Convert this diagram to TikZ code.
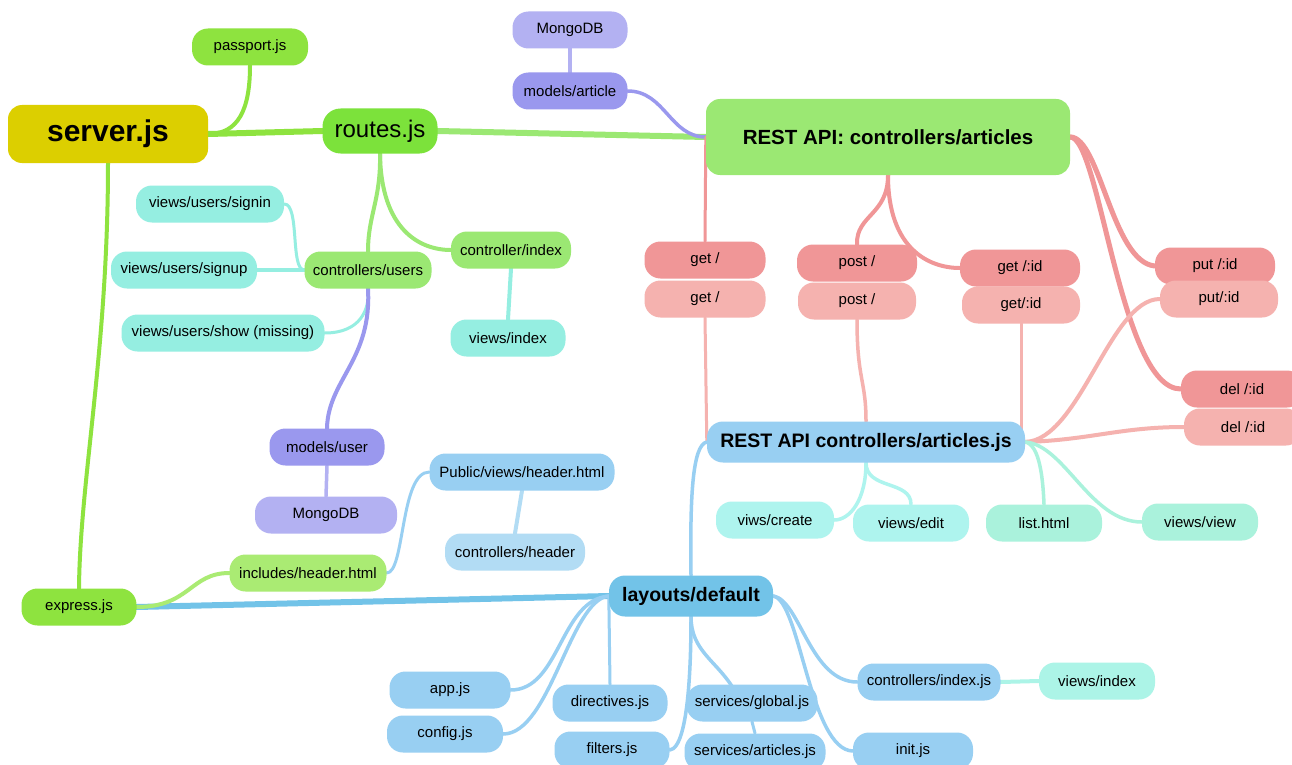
\documentclass[tikz,border=0pt]{standalone}
\usepackage{fontspec}
\setmainfont{Liberation Sans}
\usetikzlibrary{backgrounds}
\definecolor{cSrv}{HTML}{DCCF00}
\definecolor{gA}{HTML}{8EE33F}
\definecolor{gR}{HTML}{7CE23B}
\definecolor{gB}{HTML}{9BE873}
\definecolor{gC}{HTML}{AAEB73}
\definecolor{pD}{HTML}{9A98EE}
\definecolor{pL}{HTML}{B3B1F2}
\definecolor{aq}{HTML}{95EEE1}
\definecolor{rD}{HTML}{F09697}
\definecolor{rL}{HTML}{F5B2AF}
\definecolor{bA}{HTML}{98CFF2}
\definecolor{bL}{HTML}{B2DCF4}
\definecolor{bD}{HTML}{72C3E8}
\definecolor{tq}{HTML}{AEF4EE}
\definecolor{mt}{HTML}{AAF2DC}
\definecolor{aqb}{HTML}{ACF4E7}
\tikzset{
  nd/.style={rounded corners=16pt, minimum height=37pt, inner sep=0pt, text=black,
    font=\fontsize{15}{17}\selectfont},
  big/.style={nd, font=\bfseries\fontsize{19.5}{23}\selectfont, minimum height=41pt},
  edge/.style={line cap=round},
}
\begin{document}
\begin{tikzpicture}[x=1pt,y=-1pt]
\useasboundingbox (0,0) rectangle (1292,765);
% nodes
\node[nd,fill=cSrv,minimum width=200pt,minimum height=58pt,rounded corners=14pt,font=\bfseries\fontsize{30}{34}\selectfont] (srv) at (108,134) {server.js};
\node[nd,fill=gA,minimum width=116pt] (pass) at (250,47) {passport.js};
\node[nd,fill=gR,minimum width=115pt,minimum height=45pt,rounded corners=18pt,font=\fontsize{24}{27}\selectfont] (rts) at (380,131) {routes.js};
\node[nd,fill=pL,minimum width=115pt] (mdba) at (570,30) {MongoDB};
\node[nd,fill=pD,minimum width=115pt] (mart) at (570,91) {models/article};
\node[nd,fill=gB,minimum width=364pt,minimum height=76pt,rounded corners=14pt,font=\bfseries\fontsize{20.5}{24}\selectfont] (rest) at (888,137) {REST API: controllers/articles};
\node[nd,fill=aq,minimum width=148pt] (sgin) at (210,204) {views/users/signin};
\node[nd,fill=aq,minimum width=146pt] (sgup) at (184,270) {views/users/signup};
\node[nd,fill=gB,minimum width=127pt] (cusr) at (368,270) {controllers/users};
\node[nd,fill=gB,minimum width=120pt] (cidx) at (511,250) {controller/index};
\node[nd,fill=aq,minimum width=203pt] (show) at (223,333) {views/users/show (missing)};
\node[nd,fill=aq,minimum width=115pt] (vidx) at (508,338) {views/index};
\node[nd,fill=rD,minimum width=121pt] (getd) at (705,260) {get /};
\node[nd,fill=rL,minimum width=121pt] (getl) at (705,299) {get /};
\node[nd,fill=rD,minimum width=120pt] (postd) at (857,263) {post /};
\node[nd,fill=rL,minimum width=118pt] (postl) at (857,301) {post /};
\node[nd,fill=rD,minimum width=120pt] (gidd) at (1020,268) {get /:id};
\node[nd,fill=rL,minimum width=118pt] (gidl) at (1021,305) {get/:id};
\node[nd,fill=rD,minimum width=120pt] (putd) at (1215,266) {put /:id};
\node[nd,fill=rL,minimum width=118pt] (putl) at (1219,299) {put/:id};
\node[nd,fill=rD,minimum width=122pt] (deld) at (1242,389) {del /:id};
\node[nd,fill=rL,minimum width=118pt] (dell) at (1243,427) {del /:id};
\node[big,fill=bA,minimum width=318pt] (arts) at (866,442) {REST API controllers/articles.js};
\node[nd,fill=pD,minimum width=115pt] (musr) at (327,447) {models/user};
\node[nd,fill=pL,minimum width=142pt] (mdbb) at (326,515) {MongoDB};
\node[nd,fill=bA,minimum width=185pt] (pub) at (522,472) {Public/views/header.html};
\node[nd,fill=bL,minimum width=140pt] (chdr) at (515,552) {controllers/header};
\node[nd,fill=tq,minimum width=118pt] (vcre) at (775,520) {viws/create};
\node[nd,fill=tq,minimum width=116pt] (vedt) at (911,523) {views/edit};
\node[nd,fill=mt,minimum width=116pt] (list) at (1044,523) {list.html};
\node[nd,fill=mt,minimum width=116pt] (vvw) at (1200,522) {views/view};
\node[nd,fill=gC,minimum width=157pt] (inc) at (308,573) {includes/header.html};
\node[nd,fill=gA,minimum width=115pt] (exp) at (79,607) {express.js};
\node[big,fill=bD,minimum width=164pt] (lay) at (691,596) {layouts/default};
\node[nd,fill=bA,minimum width=121pt] (app) at (450,690) {app.js};
\node[nd,fill=bA,minimum width=116pt] (cfg) at (445,734) {config.js};
\node[nd,fill=bA,minimum width=115pt] (dir) at (610,703) {directives.js};
\node[nd,fill=bA,minimum width=115pt] (flt) at (612,750) {filters.js};
\node[nd,fill=bA,minimum width=131pt] (sglb) at (752,703) {services/global.js};
\node[nd,fill=bA,minimum width=141pt] (sart) at (755,752) {services/articles.js};
\node[nd,fill=bA,minimum width=143pt] (cidj) at (929,682) {controllers/index.js};
\node[nd,fill=aqb,minimum width=116pt] (vidxb) at (1097,681) {views/index};
\node[nd,fill=bA,minimum width=120pt] (init) at (913,751) {init.js};
% connectors
\begin{scope}[on background layer]
\fill[white] (0,0) rectangle (1292,765);
\draw[edge,gA,line width=4pt] (srv.east) .. controls (238,134) and (250,110) .. (pass.south);
\draw[edge,gA,line width=6pt] (srv.east) -- (rts.west);
\draw[edge,gA,line width=4pt] (srv.south) .. controls (108,350) and (80,480) .. (exp.north);
\draw[edge,gB,line width=6pt] (rts.east) -- (rest.west);
\draw[edge,pD,line width=3.5pt] (mart.east) .. controls (665,91) and (670,137) .. (rest.west);
\draw[edge,pL,line width=4pt] (mdba.south) -- (mart.north);
\draw[edge,gB,line width=4pt] (rts.south) .. controls (381,200) and (368,215) .. (cusr.north);
\draw[edge,gB,line width=4pt] (rts.south) .. controls (381,230) and (420,250) .. (cidx.west);
\draw[edge,aq,line width=3pt] (sgin.east) .. controls (300,204) and (290,270) .. (cusr.west);
\draw[edge,aq,line width=3.5pt] (sgup.east) -- (cusr.west);
\draw[edge,aq,line width=3pt] (show.east) .. controls (360,333) and (370,310) .. (cusr.south);
\draw[edge,pD,line width=4pt] (cusr.south) .. controls (372,360) and (328,380) .. (musr.north);
\draw[edge,pL,line width=3.5pt] (musr.south) -- (mdbb.north);
\draw[edge,aq,line width=4pt] (cidx.south) -- (vidx.north);
% red
\draw[edge,rD,line width=3pt] (rest.west) -- (getd.north);
\draw[edge,rD,line width=4pt] (rest.south) .. controls (888,215) and (856,215) .. (postd.north);
\draw[edge,rD,line width=4pt] (rest.south) .. controls (888,250) and (930,268) .. (gidd.west);
\draw[edge,rD,line width=5pt] (rest.east) .. controls (1100,137) and (1112,262) .. (putd.west);
\draw[edge,rD,line width=5pt] (rest.east) .. controls (1100,137) and (1120,389) .. (deld.west);
\draw[edge,rL,line width=3pt] (getl.south) -- (arts.west);
\draw[edge,rL,line width=3.5pt] (postl.south) .. controls (857,380) and (866,380) .. (arts.north);
\draw[edge,rL,line width=3pt] (gidl.south) -- (gidl.south |- arts.east);
\draw[edge,rL,line width=4pt] (arts.east) .. controls (1080,440) and (1110,299) .. (putl.west);
\draw[edge,rL,line width=4pt] (arts.east) .. controls (1090,440) and (1120,427) .. (dell.west);
% turquoise / mint
\draw[edge,tq,line width=3.5pt] (arts.south) .. controls (866,500) and (850,520) .. (vcre.east);
\draw[edge,tq,line width=3.5pt] (arts.south) .. controls (866,490) and (911,480) .. (vedt.north);
\draw[edge,mt,line width=3.5pt] (arts.east) .. controls (1040,445) and (1043,480) .. (list.north);
\draw[edge,mt,line width=3.5pt] (arts.east) .. controls (1065,445) and (1090,522) .. (vvw.west);
% blue
\draw[edge,bA,line width=3.5pt] (lay.north) .. controls (690,500) and (692,445) .. (arts.west);
\draw[edge,bD,line width=6pt] (exp.east) -- (lay.west);
\draw[edge,gC,line width=4pt] (exp.east) .. controls (190,607) and (190,573) .. (inc.west);
\draw[edge,bA,line width=3pt] (inc.east) .. controls (405,573) and (400,472) .. (pub.west);
\draw[edge,bL,line width=4pt] (pub.south) -- (chdr.north);
\draw[edge,bA,line width=3.5pt] (lay.west) .. controls (560,600) and (560,690) .. (app.east);
\draw[edge,bA,line width=3.5pt] (lay.west) .. controls (570,600) and (550,734) .. (cfg.east);
\draw[edge,bA,line width=3pt] (lay.west) -- (dir.north);
\draw[edge,bA,line width=3.5pt] (lay.south) .. controls (691,650) and (690,748) .. (flt.east);
\draw[edge,bA,line width=3.5pt] (lay.south) .. controls (691,650) and (715,660) .. ([xshift=-20pt,yshift=-2pt]sglb.north);
\draw[edge,bA,line width=3pt] (sglb.south) -- (sart.north);
\draw[edge,bA,line width=3.5pt] (lay.east) .. controls (800,600) and (810,682) .. (cidj.west);
\draw[edge,bA,line width=3.5pt] (lay.east) .. controls (800,600) and (810,750) .. (init.west);
\draw[edge,aqb,line width=4pt] (cidj.east) -- (vidxb.west);
\end{scope}
\end{tikzpicture}
\end{document}
